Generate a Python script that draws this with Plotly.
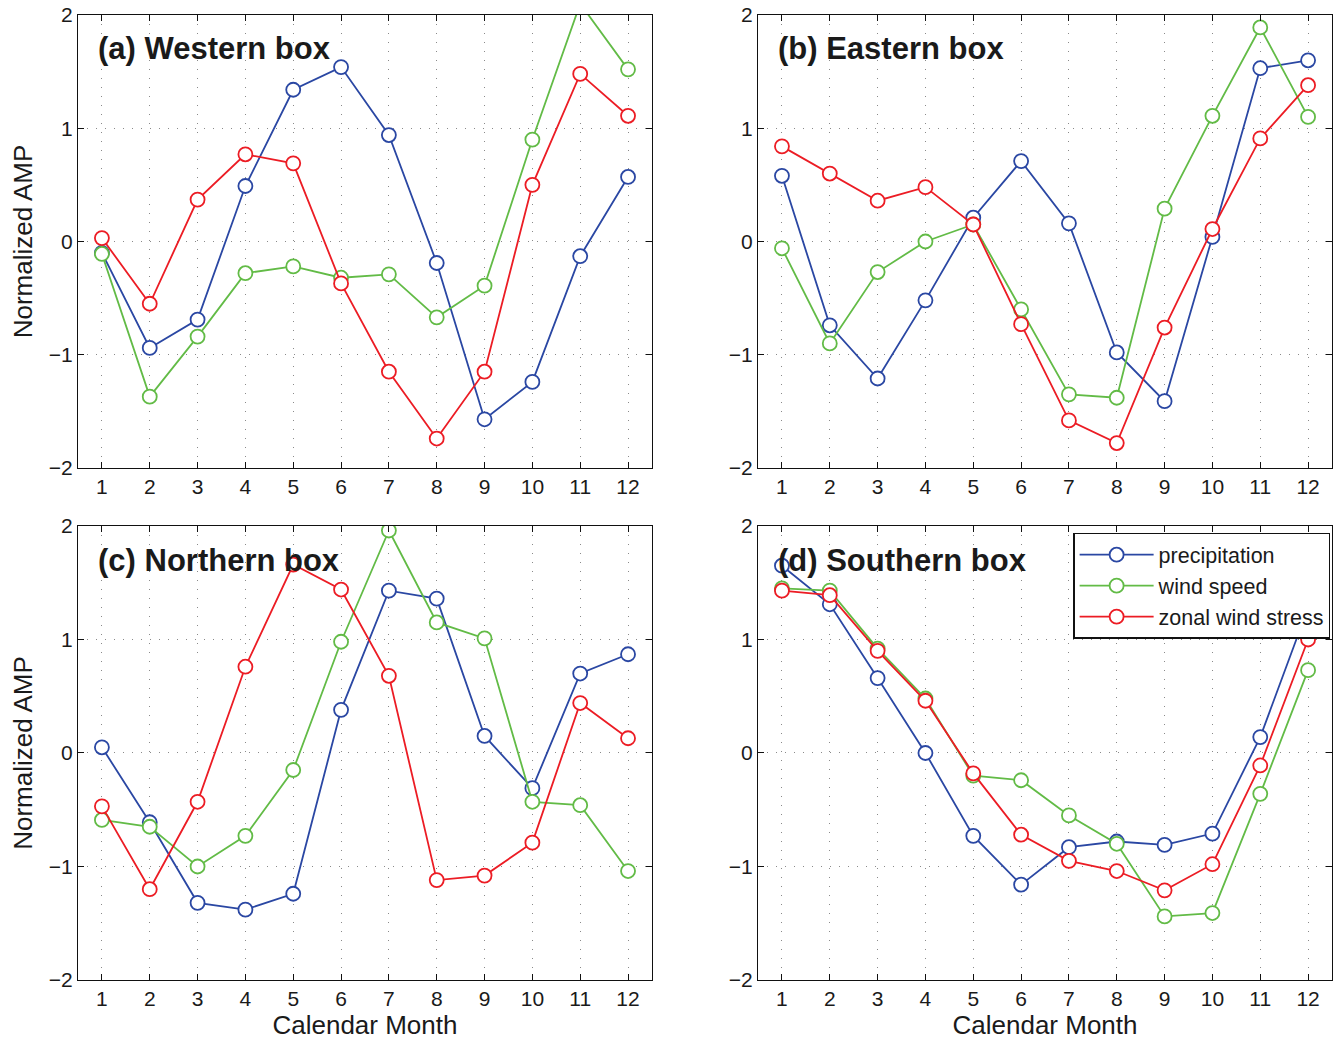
import plotly.graph_objects as go

months = list(range(1, 13))
month_labels = [str(m) for m in months]
series_names = ["precipitation", "wind speed", "zonal wind stress"]
panel_titles = ["(a) Western box", "(b) Eastern box", "(c) Northern box", "(d) Southern box"]

# (a) Western box
west_precip = [-0.10, -0.94, -0.69, 0.49, 1.34, 1.54, 0.94, -0.19, -1.57, -1.24, -0.13, 0.57]
west_wind = [-0.11, -1.37, -0.84, -0.28, -0.22, -0.32, -0.29, -0.67, -0.39, 0.90, 2.10, 1.52]
west_stress = [0.03, -0.55, 0.37, 0.77, 0.69, -0.37, -1.15, -1.74, -1.15, 0.50, 1.48, 1.11]

# (b) Eastern box
east_precip = [0.58, -0.74, -1.21, -0.52, 0.21, 0.71, 0.16, -0.98, -1.41, 0.04, 1.53, 1.60]
east_wind = [-0.06, -0.90, -0.27, 0.00, 0.15, -0.60, -1.35, -1.38, 0.29, 1.11, 1.89, 1.10]
east_stress = [0.84, 0.60, 0.36, 0.48, 0.15, -0.73, -1.58, -1.78, -0.76, 0.11, 0.91, 1.38]

# (c) Northern box
north_precip = [0.05, -0.61, -1.32, -1.38, -1.24, 0.38, 1.43, 1.36, 0.15, -0.31, 0.70, 0.87]
north_wind = [-0.59, -0.65, -1.00, -0.73, -0.15, 0.98, 1.96, 1.15, 1.01, -0.43, -0.46, -1.04]
north_stress = [-0.47, -1.20, -0.43, 0.76, 1.66, 1.44, 0.68, -1.12, -1.08, -0.79, 0.44, 0.13]

# (d) Southern box
south_precip = [1.65, 1.31, 0.66, 0.00, -0.73, -1.16, -0.83, -0.78, -0.81, -0.71, 0.14, 1.28]
south_wind = [1.45, 1.43, 0.92, 0.48, -0.20, -0.24, -0.55, -0.80, -1.44, -1.41, -0.36, 0.73]
south_stress = [1.43, 1.39, 0.90, 0.46, -0.18, -0.72, -0.95, -1.04, -1.21, -0.98, -0.11, 1.00]

y_ticks = [-2, -1, 0, 1, 2]

panels = [
    (west_precip, west_wind, west_stress),
    (east_precip, east_wind, east_stress),
    (north_precip, north_wind, north_stress),
    (south_precip, south_wind, south_stress),
]

colors = ["#2a47a3", "#62bb46", "#ec1c24"]
FONT = "Liberation Sans, Arial, Helvetica, sans-serif"
TXT = "#1a1a1a"

# layout geometry (paper fractions)
xdoms = [[0.0, 0.4577], [0.5423, 1.0], [0.0, 0.4577], [0.5423, 1.0]]
ydoms = [[0.5306, 1.0], [0.5306, 1.0], [0.0, 0.4705], [0.0, 0.4705]]

fig = go.Figure()
layout_axes = {}
annotations = []
for i, (vals, xd, yd) in enumerate(zip(panels, xdoms, ydoms)):
    n = i + 1
    xa = "x" if n == 1 else f"x{n}"
    ya = "y" if n == 1 else f"y{n}"
    for j, (v, name, col) in enumerate(zip(vals, series_names, colors)):
        fig.add_trace(go.Scatter(
            x=months, y=v, name=name, mode="lines+markers",
            xaxis=xa, yaxis=ya,
            line=dict(color=col, width=1.8),
            marker=dict(symbol="circle", size=14, color="white",
                        line=dict(color=col, width=1.8)),
            showlegend=(n == 4),
        ))
    common = dict(
        showline=True, linecolor="#111111", linewidth=1.2, mirror="ticks",
        ticks="inside", ticklen=6, tickwidth=1, tickcolor="#111111",
        showgrid=True, gridcolor="#8a8a8a", gridwidth=1, griddash="1px,8px",
        zeroline=False,
        tickfont=dict(family=FONT, size=21, color=TXT),
    )
    layout_axes["xaxis" if n == 1 else f"xaxis{n}"] = dict(
        common, domain=xd, anchor=ya, range=[0.5, 12.5],
        tickmode="array", tickvals=months, ticktext=month_labels,
        title=dict(text="Calendar Month", font=dict(family=FONT, size=26, color=TXT), standoff=2) if n >= 3 else None,
    )
    layout_axes["yaxis" if n == 1 else f"yaxis{n}"] = dict(
        common, domain=yd, anchor=xa, range=[-2, 2],
        tickmode="array", tickvals=y_ticks,
        title=dict(text="Normalized AMP", font=dict(family=FONT, size=26, color=TXT), standoff=8) if n in (1, 3) else None,
    )
    annotations.append(dict(
        text=f"<b>{panel_titles[i]}</b>", xref=f"{xa} domain", yref=f"{ya} domain",
        x=0.031, y=0.925, xanchor="left", yanchor="middle", showarrow=False,
        font=dict(family=FONT, size=31, color=TXT),
    ))

fig.update_layout(
    width=1335, height=1040,
    margin=dict(l=78, r=3, t=15, b=60),
    paper_bgcolor="white", plot_bgcolor="white",
    showlegend=True,
    legend=dict(
        x=0.9985, y=0.4635, xanchor="right", yanchor="top",
        bgcolor="white", bordercolor="#111111", borderwidth=1.5,
        font=dict(family=FONT, size=21.5, color=TXT),
        itemwidth=74, tracegroupgap=0,
    ),
    annotations=annotations,
    **layout_axes,
)

fig.write_html("out.html", config={"displayModeBar": False},
               post_script="document.body.style.margin='0px';")
